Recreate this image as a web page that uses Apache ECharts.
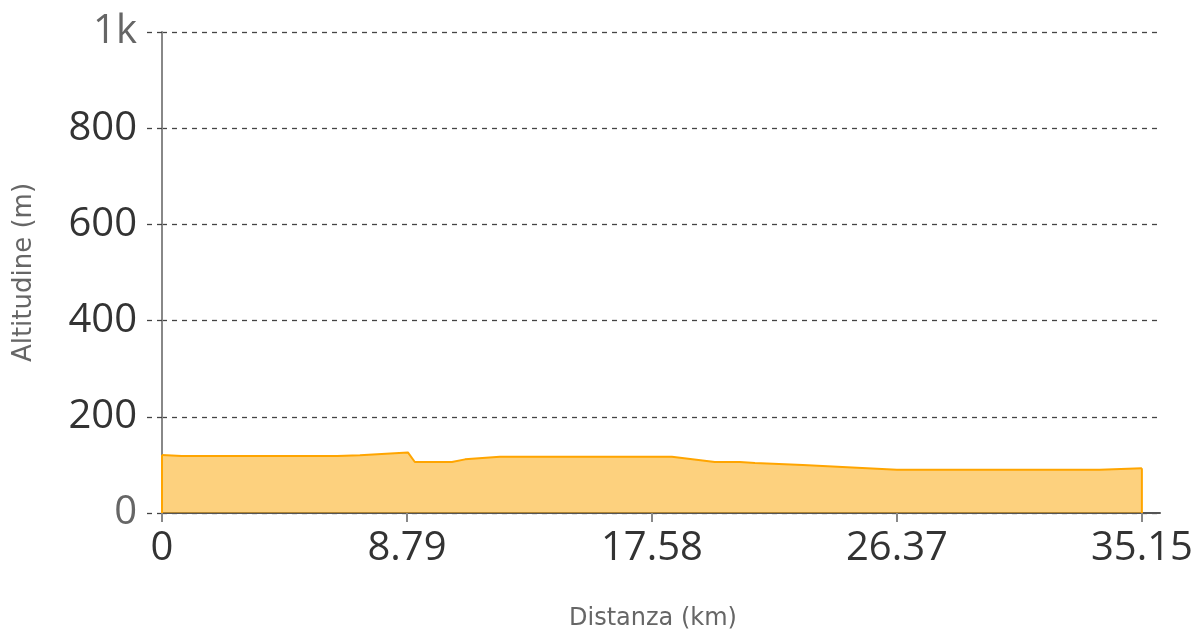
<!DOCTYPE html>
<html><head><meta charset="utf-8">
<script src="https://cdn.jsdelivr.net/npm/echarts@6/dist/echarts.min.js"></script>
<style>html,body{margin:0;padding:0;background:#fff}#c{width:1197px;height:630px}</style>
</head><body><div id="c"></div>
<script>
const distanceKm = [0, 0.71, 6.28, 7.10, 8.82, 9.07, 10.40, 10.87, 12.12, 18.29, 19.83, 20.73, 21.27, 22.99, 26.36, 33.64, 35.15];
const altitudeM  = [120.5, 118.5, 118.5, 120, 126, 106, 106, 111.5, 117, 117, 106, 106, 104, 100, 90, 90, 93];
const xTickValues = [0, 8.7875, 17.575, 26.3625, 35.15];
const xTickLabels = ['0', '8.79', '17.58', '26.37', '35.15'];
const yTickValues = [0, 200, 400, 600, 800, 1000];
const yTickLabels = ['0', '200', '400', '600', '800', '1k'];
const xAxisName = 'Distanza (km)';
const yAxisName = 'Altitudine (m)';

const chart = echarts.init(document.getElementById('c'));
const font = 'Open Sans';
const nameFont = 'DejaVu Sans';
chart.setOption({
  animation: false,
  grid: {left: 162, right: 37, top: 32, bottom: 117, containLabel: false, outerBoundsMode: 'none'},
  xAxis: {
    type: 'value', min: 0, max: 35.8,
    name: xAxisName, nameLocation: 'middle', nameGap: 94,
    nameTextStyle: {fontFamily: nameFont, fontSize: 24, color: '#666', padding: [0, 16, 0, 0]},
    axisLine: {show: true, lineStyle: {color: '#555', width: 2}},
    axisTick: {show: true, customValues: xTickValues, length: 9, lineStyle: {color: '#888', width: 2}},
    axisLabel: {customValues: xTickValues, fontFamily: font, fontSize: 40, color: '#333', margin: 16,
      formatter: v => { const i = xTickValues.findIndex(t => Math.abs(t - v) < 1e-6); return i >= 0 ? xTickLabels[i] : ''; }},
    splitLine: {show: false}
  },
  yAxis: {
    type: 'value', min: 0, max: 1000, interval: 200,
    name: yAxisName, nameLocation: 'middle', nameGap: 125,
    nameTextStyle: {fontFamily: nameFont, fontSize: 26, color: '#666'},
    axisLine: {show: true, lineStyle: {color: '#888', width: 2}},
    axisTick: {show: true, length: 19, lineStyle: {color: '#444', type: [5, 5], width: 1.3}},
    axisLabel: {fontFamily: font, fontSize: 40, margin: 25,
      formatter: v => { const i = yTickValues.indexOf(v); const s = i >= 0 ? yTickLabels[i] : String(v); return (v === 0 || v === 1000) ? '{g|' + s + '}' : '{d|' + s + '}'; },
      rich: {g: {color: '#666', fontFamily: font, fontSize: 40}, d: {color: '#333', fontFamily: font, fontSize: 40}}},
    splitLine: {show: true, lineStyle: {color: '#444', type: [5, 5], width: 1.3}}
  },
  series: [{
    type: 'line', symbol: 'none',
    data: distanceKm.map((d, i) => [d, altitudeM[i]]),
    lineStyle: {color: '#ffa500', width: 2},
    areaStyle: {color: 'rgba(251,172,20,0.55)', opacity: 1, origin: 'start'},
    z: 3
  }, {
    type: 'line', symbol: 'none', silent: true,
    data: [[distanceKm[distanceKm.length - 1], altitudeM[altitudeM.length - 1]], [distanceKm[distanceKm.length - 1], 0]],
    lineStyle: {color: '#ffa500', width: 2}, z: 4
  }, {
    type: 'line', symbol: 'none', silent: true,
    data: [[0, 0], [0, altitudeM[0]]],
    lineStyle: {color: '#ffa500', width: 2}, z: 4
  }]
});
</script></body></html>
